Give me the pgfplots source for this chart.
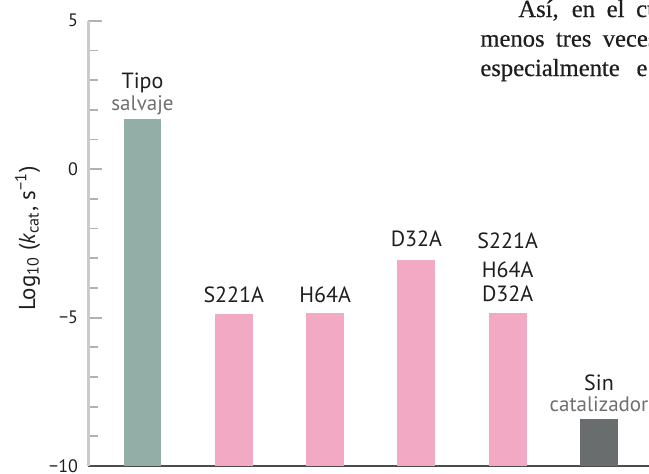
\documentclass[border=0pt]{standalone}
\usepackage{pgfplots}
\pgfplotsset{compat=1.18}
\usepackage{fontspec}
\setmainfont{PT Sans}
\newfontfamily\seriffont[FakeBold=0.5]{Liberation Serif}
\definecolor{salv}{HTML}{93AEA6}
\definecolor{rosa}{HTML}{F2A9C4}
\definecolor{sinc}{HTML}{6A6D6D}
\definecolor{axgray}{HTML}{C8CACB}
\definecolor{lbgray}{HTML}{6F6F6F}
\definecolor{txt}{HTML}{1E1E1E}
\begin{document}
\begin{tikzpicture}
\useasboundingbox (0,0) rectangle (324.5pt,236.5pt);
\clip (0,0) rectangle (324.5pt,236.5pt);
\begin{scope}[every node/.style={anchor=base west, inner sep=0, font=\seriffont\fontsize{12.3}{14}\selectfont, text=txt}]
\node at (259pt,228pt) {\makebox[70.5pt][s]{Así, en el cu}};
\node at (240pt,213.2pt) {\makebox[88.5pt][s]{menos tres veces}};
\node at (240pt,198.5pt) {\makebox[83.5pt][s]{especialmente e}};
\end{scope}
\begin{axis}[
  at={(44pt,3.5pt)}, anchor=south west, scale only axis,
  width=282.9pt, height=222.6pt,
  xmin=-0.597, xmax=5.6, ymin=-10, ymax=5,
  axis x line=bottom, axis y line=left,
  xtick=\empty,
  ytick={-10,-5,0,5}, yticklabels={−10,−5,0,5},
  minor y tick num=4,
  tick align=inside,
  major tick length=7pt, minor tick length=4.75pt,
  y axis line style={axgray, line width=1.5pt, -},
  x axis line style={black!70, line width=0.75pt, -},
  ytick style={gray!60, line width=0.9pt},
  minor y tick style={gray!60, line width=0.9pt},
  yticklabel style={font=\fontsize{9}{10}\selectfont, text=txt, xshift=-1.5pt},
  ylabel={Log\textsubscript{10} (\textit{k}\textsubscript{cat}, s\textsuperscript{−1})},
  ylabel style={at={(axis description cs:-0.107,0.511)}, anchor=center, font=\fontsize{11.5}{13}\selectfont, text=txt},
  clip=false,
]
\addplot[fill=salv, draw=none] coordinates {(-0.208,-10) (-0.208,1.69) (0.208,1.69) (0.208,-10)} --cycle;
\addplot[fill=rosa, draw=none] coordinates {(0.792,-10) (0.792,-4.87) (1.208,-4.87) (1.208,-10)} --cycle;
\addplot[fill=rosa, draw=none] coordinates {(1.792,-10) (1.792,-4.86) (2.208,-4.86) (2.208,-10)} --cycle;
\addplot[fill=rosa, draw=none] coordinates {(2.792,-10) (2.792,-3.05) (3.208,-3.05) (3.208,-10)} --cycle;
\addplot[fill=rosa, draw=none] coordinates {(3.792,-10) (3.792,-4.86) (4.208,-4.86) (4.208,-10)} --cycle;
\addplot[fill=sinc, draw=none] coordinates {(4.792,-10) (4.792,-8.42) (5.208,-8.42) (5.208,-10)} --cycle;
\begin{scope}[every node/.style={anchor=base, inner sep=0, text=txt, font=\fontsize{11}{12}\selectfont}]
\node at (axis cs:0,2.73) {Tipo};
\node[text=lbgray, font=\fontsize{10.5}{11}\selectfont] at (axis cs:0,1.99) {salvaje};
\node at (axis cs:1,-4.50) {S221A};
\node at (axis cs:2,-4.50) {H64A};
\node at (axis cs:3,-2.62) {D32A};
\node at (axis cs:4,-2.68) {S221A};
\node at (axis cs:4,-3.64) {H64A};
\node at (axis cs:4,-4.46) {D32A};
\node at (axis cs:5,-7.47) {Sin};
\node[text=lbgray, font=\fontsize{10.5}{11}\selectfont] at (axis cs:5,-8.17) {catalizador};
\end{scope}
\end{axis}
\end{tikzpicture}
\end{document}
